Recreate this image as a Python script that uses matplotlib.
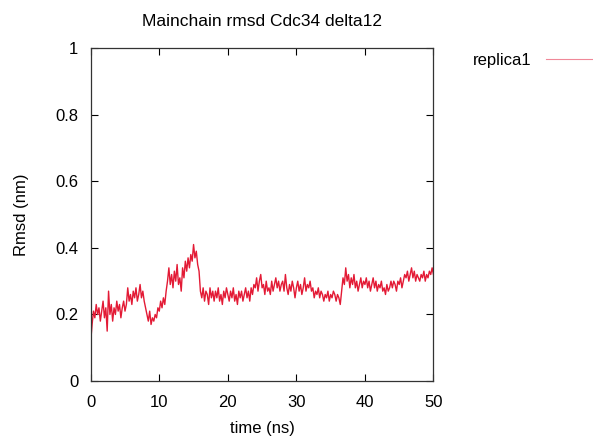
import numpy as np
import matplotlib.pyplot as plt
from matplotlib.lines import Line2D

# rmsd, one value every 0.2 ns from 0 to 50 ns
step = 0.2
rmsd = [
    0.12, 0.17, 0.21, 0.19, 0.23, 0.20, 0.22, 0.18, 0.21, 0.24,
    0.19, 0.22, 0.15, 0.27, 0.20, 0.23, 0.18, 0.22, 0.20, 0.24,
    0.21, 0.23, 0.19, 0.22, 0.24, 0.21, 0.23, 0.28, 0.24, 0.26,
    0.23, 0.27, 0.25, 0.28, 0.24, 0.26, 0.29, 0.25, 0.27, 0.24,
    0.22, 0.20, 0.18, 0.21, 0.17, 0.19, 0.18, 0.20, 0.19, 0.22,
    0.21, 0.24, 0.22, 0.25, 0.23, 0.27, 0.30, 0.34, 0.29, 0.32,
    0.28, 0.33, 0.30, 0.35, 0.29, 0.31, 0.27, 0.34, 0.31, 0.36,
    0.33, 0.37, 0.34, 0.38, 0.36, 0.41, 0.37, 0.39, 0.35, 0.33,
    0.27, 0.25, 0.28, 0.24, 0.27, 0.26, 0.23, 0.28, 0.25, 0.27,
    0.24, 0.27, 0.25, 0.28, 0.24, 0.26, 0.23, 0.27, 0.25, 0.28,
    0.26, 0.24, 0.27, 0.25, 0.28, 0.24, 0.26, 0.23, 0.27, 0.25,
    0.27, 0.24, 0.26, 0.28, 0.25, 0.27, 0.24, 0.28, 0.26, 0.29,
    0.28, 0.31, 0.27, 0.30, 0.32, 0.28, 0.29, 0.26, 0.30, 0.27,
    0.28, 0.26, 0.30, 0.27, 0.29, 0.31, 0.28, 0.30, 0.27, 0.29,
    0.30, 0.27, 0.32, 0.28, 0.26, 0.29, 0.27, 0.30, 0.28, 0.25,
    0.28, 0.30, 0.27, 0.29, 0.26, 0.28, 0.31, 0.27, 0.29, 0.28,
    0.30, 0.27, 0.28, 0.25, 0.27, 0.26, 0.28, 0.25, 0.27, 0.26,
    0.24, 0.26, 0.25, 0.27, 0.24, 0.26, 0.25, 0.27, 0.26, 0.24,
    0.26, 0.25, 0.23, 0.27, 0.31, 0.29, 0.34, 0.30, 0.32, 0.28,
    0.31, 0.29, 0.32, 0.28, 0.30, 0.27, 0.29, 0.31, 0.28, 0.30,
    0.29, 0.31, 0.28, 0.30, 0.27, 0.29, 0.31, 0.28, 0.30, 0.27,
    0.29, 0.28, 0.30, 0.27, 0.28, 0.26, 0.29, 0.27, 0.28, 0.30,
    0.28, 0.30, 0.29, 0.27, 0.30, 0.29, 0.31, 0.28, 0.30, 0.32,
    0.31, 0.33, 0.30, 0.32, 0.34, 0.31, 0.33, 0.30, 0.32, 0.31,
    0.30, 0.32, 0.31, 0.33, 0.30, 0.32, 0.31, 0.33, 0.32, 0.34,
    0.32,
]
time = np.arange(len(rmsd)) * step

xticks = [0, 10, 20, 30, 40, 50]
yticks = [0, 0.2, 0.4, 0.6, 0.8, 1]
ytick_labels = ['0', '0.2', '0.4', '0.6', '0.8', '1']

plt.rcParams['font.family'] = ['Liberation Sans', 'DejaVu Sans']
fs = 12
fig = plt.figure(figsize=(5.93, 4.37), dpi=100, facecolor='white')
ax = fig.add_axes([0.153, 0.128, 0.578, 0.762])

ax.plot(time, rmsd, color='#e31a35', lw=1.0)

ax.set_xlim(0, 50)
ax.set_ylim(0, 1)
ax.set_xticks(xticks)
ax.set_yticks(yticks)
ax.set_yticklabels(ytick_labels)
ax.tick_params(axis='x', direction='in', length=5, width=0.8, top=True,
               labelsize=fs, pad=10)
ax.tick_params(axis='y', direction='in', length=5, width=0.8, right=True,
               labelsize=fs, pad=9)
for s in ax.spines.values():
    s.set_linewidth(0.9)
    s.set_color('#333333')

ax.set_xlabel('time (ns)', fontsize=fs, labelpad=8)
ax.set_ylabel('Rmsd (nm)', fontsize=fs, labelpad=19)
ax.set_title('Mainchain rmsd Cdc34 delta12', fontsize=12.5, pad=16)

handle = Line2D([], [], color='#f08898', lw=0.8)
ax.legend([handle], ['replica1'], loc='upper left', bbox_to_anchor=(1.07, 1.03),
          frameon=False, markerfirst=False, fontsize=fs, handlelength=3.6,
          handletextpad=0.9)

plt.savefig('out.png', dpi=100, facecolor='white')
